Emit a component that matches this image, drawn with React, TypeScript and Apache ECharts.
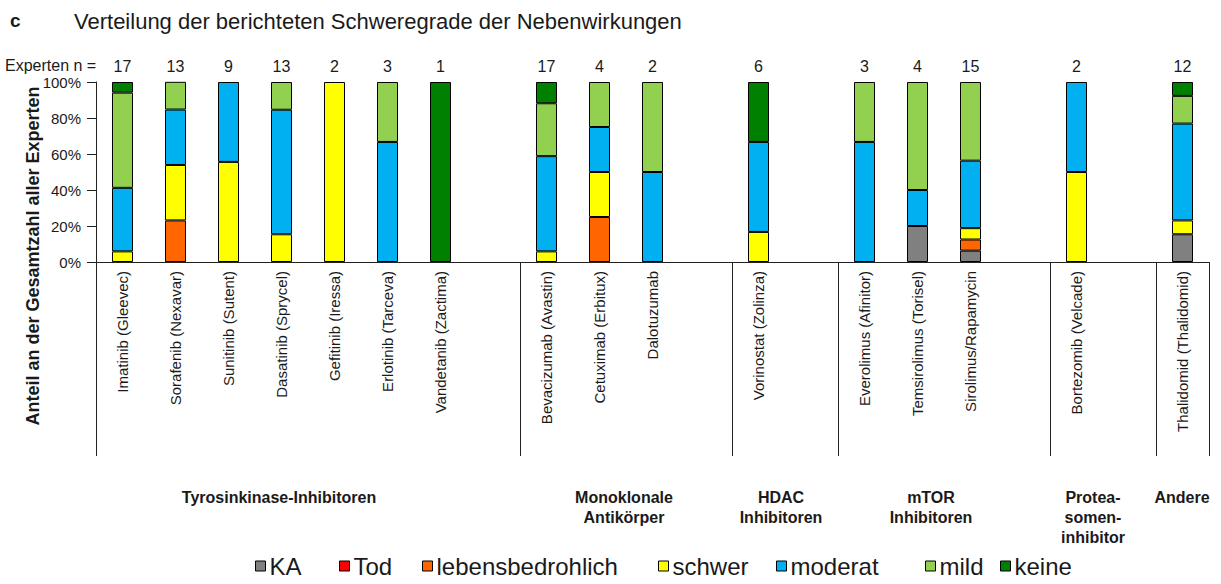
import React, { useEffect, useRef } from "react";
import * as echarts from "echarts";

const categories = [
  "Imatinib (Gleevec)", "Sorafenib (Nexavar)", "Sunitinib (Sutent)", "Dasatinib (Sprycel)",
  "Gefitinib (Iressa)", "Erlotinib (Tarceva)", "Vandetanib (Zactima)", "",
  "Bevacizumab (Avastin)", "Cetuximab (Erbitux)", "Dalotuzumab", "",
  "Vorinostat (Zolinza)", "",
  "Everolimus (Afinitor)", "Temsirolimus (Torisel)", "Sirolimus/Rapamycin", "",
  "Bortezomib (Velcade)", "",
  "Thalidomid (Thalidomid)",
];
const expertCounts = ["17", "13", "9", "13", "2", "3", "1", "", "17", "4", "2", "", "6", "", "3", "4", "15", "", "2", "", "12"];

// percentages (stacked, bottom to top)
const ka = [0, 0, 0, 0, 0, 0, 0, null, 0, 0, 0, null, 0, null, 0, 20, 6.3, null, 0, null, 15.4];
const tod = [0, 0, 0, 0, 0, 0, 0, null, 0, 0, 0, null, 0, null, 0, 0, 0, null, 0, null, 0];
const lebensbedrohlich = [0, 23.1, 0, 0, 0, 0, 0, null, 0, 25, 0, null, 0, null, 0, 0, 6.2, null, 0, null, 0];
const schwer = [5.9, 30.8, 55.6, 15.4, 100, 0, 0, null, 5.9, 25, 0, null, 16.7, null, 0, 0, 6.3, null, 50, null, 7.7];
const moderat = [35.3, 30.8, 44.4, 69.2, 0, 66.7, 0, null, 52.9, 25, 50, null, 50, null, 66.7, 20, 37.5, null, 50, null, 53.8];
const mild = [52.9, 15.4, 0, 15.4, 0, 33.3, 0, null, 29.4, 25, 50, null, 0, null, 33.3, 60, 43.7, null, 0, null, 15.4];
const keine = [5.9, 0, 0, 0, 0, 0, 100, null, 11.8, 0, 0, null, 33.3, null, 0, 0, 0, null, 0, null, 7.7];

const seriesNames = ["KA", "Tod", "lebensbedrohlich", "schwer", "moderat", "mild", "keine"];
const seriesValues = [ka, tod, lebensbedrohlich, schwer, moderat, mild, keine];
const seriesColors = ["#808080", "#FF0000", "#FF6600", "#FFFF00", "#00B0F0", "#92D050", "#008000"];

const yTicks = [0, 20, 40, 60, 80, 100];
const groupLabels = [
  { text: "Tyrosinkinase-Inhibitoren", x: 279 },
  { text: "Monoklonale\nAntikörper", x: 624 },
  { text: "HDAC\nInhibitoren", x: 781 },
  { text: "mTOR\nInhibitoren", x: 931 },
  { text: "Protea-\nsomen-\ninhibitor", x: 1093 },
  { text: "Andere", x: 1182 },
];
const groupStarts = [8, 12, 14, 18, 20];

const legendLefts = [255, 339, 422, 658, 776, 925, 1000];

const FONT = "'Liberation Sans', Arial, sans-serif";
const TXT = "#1a1a1a";

export default function App() {
  const ref = useRef<HTMLDivElement>(null);
  useEffect(() => {
    document.body.style.margin = "0";
    const chart = echarts.init(ref.current!, undefined, { renderer: "svg" });
    const option: any = {
      animation: false,
      backgroundColor: "#ffffff",
      textStyle: { fontFamily: FONT },
      grid: { left: 96, right: 12, top: 82, bottom: 322, containLabel: false },
      legend: seriesNames.map((n, i) => ({
        data: [n],
        left: legendLefts[i],
        top: 554,
        icon: "rect",
        itemWidth: 10,
        itemHeight: 10,
        itemGap: 4,
        padding: 0,
        selectedMode: false,
        itemStyle: { borderColor: "#000", borderWidth: 1 },
        textStyle: { fontSize: 24, fontFamily: FONT, color: TXT, padding: [0, 0, 0, -1] },
      })),
      xAxis: [
        {
          type: "category",
          data: categories,
          position: "bottom",
          axisLine: { show: true, lineStyle: { color: "#222", width: 1 } },
          axisTick: { show: false },
          axisLabel: {
            interval: 0,
            rotate: 90,
            fontSize: 15,
            color: TXT,
            fontFamily: FONT,
            margin: 9,
          },
        },
        {
          type: "category",
          data: expertCounts,
          position: "top",
          axisLine: { show: false },
          axisTick: { show: false },
          axisLabel: { interval: 0, fontSize: 16, color: TXT, fontFamily: FONT, margin: 8 },
        },
      ],
      yAxis: {
        type: "value",
        min: 0,
        max: 100,
        interval: 20,
        axisLine: { show: true, lineStyle: { color: "#222", width: 1 } },
        axisTick: { show: true, length: 9, lineStyle: { color: "#222" } },
        splitLine: { show: false },
        axisLabel: {
          fontSize: 15,
          color: TXT,
          fontFamily: FONT,
          margin: 15,
          formatter: (v: number) => (yTicks.includes(v) ? v + "%" : ""),
        },
      },
      series: seriesNames.map((n, i) => ({
        name: n,
        type: "bar",
        stack: "total",
        barWidth: 21,
        xAxisIndex: 0,
        data: seriesValues[i].map((v) => (v === null || v === 0 ? "-" : v)),
        itemStyle: { color: seriesColors[i], borderColor: "#000", borderWidth: 1 },
        emphasis: { disabled: true },
      })),
    };
    chart.setOption(option);

    const x0 = chart.convertToPixel({ xAxisIndex: 0 }, 0) as number;
    const x1 = chart.convertToPixel({ xAxisIndex: 0 }, 1) as number;
    const band = x1 - x0;
    const yBase = chart.convertToPixel({ yAxisIndex: 0 }, 0) as number;
    const yEnd = 456;
    const sepXs = [x0 - band / 2, ...groupStarts.map((i) => (chart.convertToPixel({ xAxisIndex: 0 }, i) as number) - band / 2), (chart.convertToPixel({ xAxisIndex: 0 }, categories.length - 1) as number) + band / 2];

    const graphic: any[] = [
      { type: "text", left: 10, top: 11, style: { text: "c", font: `bold 19px ${FONT}`, fill: TXT } },
      { type: "text", left: 74, top: 10, style: { text: "Verteilung der berichteten Schweregrade der Nebenwirkungen", font: `22px ${FONT}`, fill: TXT } },
      { type: "text", left: 5, top: 57, style: { text: "Experten n =", font: `16px ${FONT}`, fill: TXT } },
      {
        type: "text",
        x: 33,
        y: 256,
        rotation: Math.PI / 2,
        style: { text: "Anteil an der Gesamtzahl aller Experten", font: `bold 18px ${FONT}`, fill: TXT, align: "center", verticalAlign: "middle" },
      },
      ...sepXs.map((x) => ({
        type: "line",
        shape: { x1: Math.round(x) + 0.5, y1: yBase, x2: Math.round(x) + 0.5, y2: yEnd },
        style: { stroke: "#222", lineWidth: 1 },
      })),
      ...groupLabels.map((g) => ({
        type: "text",
        x: g.x,
        y: 487,
        style: { text: g.text, font: `bold 16px ${FONT}`, fill: TXT, align: "center", verticalAlign: "top", lineHeight: 20 },
      })),
    ];
    chart.setOption({ graphic });
    return () => chart.dispose();
  }, []);
  return <div ref={ref} style={{ width: 1221, height: 584 }} />;
}
